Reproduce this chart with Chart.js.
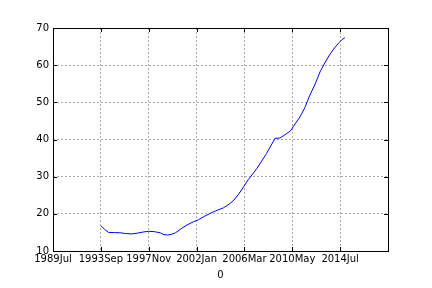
<!DOCTYPE html>
<html>
<head>
<meta charset="utf-8">
<script src="https://cdn.jsdelivr.net/npm/chart.js@4"></script>
<style>
  html, body { margin: 0; padding: 0; background: #fff; }
  #wrap { width: 432px; height: 288px; }
</style>
</head>
<body>
<div id="wrap"><canvas id="chart" width="432" height="288"></canvas></div>
<script>
// month index, counted from 1989Jul = 0
const months = [50, 54, 58, 64, 70, 76, 82, 88, 94, 100, 106, 112, 116, 120, 124, 128,
  134, 140, 147, 152, 158, 164, 170, 178, 184, 189, 194, 199, 204, 208, 213, 218,
  223, 228, 232, 237, 242, 248, 253, 258, 263, 268, 274, 279, 284, 289, 294, 299, 302, 305]
const values = [16.8, 15.8, 15.0, 14.95, 14.9, 14.7, 14.6, 14.8, 15.1, 15.3, 15.2, 14.9, 14.4, 14.3, 14.5, 14.9,
  16.0, 17.0, 17.9, 18.4, 19.3, 20.1, 20.8, 21.6, 22.6, 23.7, 25.3, 27.2, 29.2, 30.5, 32.2, 34.2,
  36.2, 38.5, 40.3, 40.4, 41.2, 42.3, 44.2, 46.1, 48.5, 51.7, 55.0, 58.2, 60.6, 62.8, 64.6, 66.1, 66.9, 67.4]
const tickLabels = ["1989Jul", "1993Sep", "1997Nov", "2002Jan", "2006Mar", "2010May", "2014Jul"]
const xLabel = "0"

const FONT = { family: "DejaVu Sans", size: 10 }

// frame + inward tick marks, old matplotlib look
const frame = {
  id: "frame",
  afterDraw(c) {
    const { ctx, chartArea: a, scales } = c
    ctx.save()
    ctx.strokeStyle = "#000"
    ctx.lineWidth = 1
    ctx.beginPath()
    scales.x.ticks.forEach(t => {
      const px = Math.round(scales.x.getPixelForValue(t.value)) + 0.5
      ctx.moveTo(px, a.bottom); ctx.lineTo(px, a.bottom - 4)
      ctx.moveTo(px, a.top); ctx.lineTo(px, a.top + 4)
    })
    scales.y.ticks.forEach(t => {
      const py = Math.round(scales.y.getPixelForValue(t.value)) + 0.5
      ctx.moveTo(a.left, py); ctx.lineTo(a.left + 4, py)
      ctx.moveTo(a.right, py); ctx.lineTo(a.right - 4, py)
    })
    ctx.stroke()
    ctx.strokeRect(Math.round(a.left) + 0.5, Math.round(a.top) + 0.5,
      Math.round(a.right - a.left), Math.round(a.bottom - a.top))
    ctx.restore()
  }
}

new Chart(document.getElementById("chart"), {
  type: "line",
  data: {
    datasets: [{
      data: months.map((m, i) => ({ x: m, y: values[i] })),
      borderColor: "#0000ff",
      borderWidth: 1,
      pointRadius: 0,
      tension: 0,
      fill: false
    }]
  },
  options: {
    responsive: false,
    animation: false,
    layout: { padding: { top: 28, right: 44, left: 0, bottom: 0 } },
    plugins: { legend: { display: false }, tooltip: { enabled: false } },
    scales: {
      x: {
        type: "linear",
        min: 0,
        max: 350,
        afterBuildTicks: s => { s.ticks = [0, 50, 100, 150, 200, 250, 300, 350].map(v => ({ value: v })) },
        afterFit: s => { s.height = 37 },
        ticks: {
          autoSkip: false,
          maxRotation: 0,
          padding: 2,
          color: "#000",
          font: FONT,
          callback: (v, i) => tickLabels[i] || ""
        },
        grid: { color: "#aaa", lineWidth: 1, drawTicks: false },
        border: { display: false, dash: [2, 2] },
        title: { display: true, text: xLabel, color: "#000", font: FONT, padding: { top: 0, bottom: 7 } }
      },
      y: {
        min: 10,
        max: 70,
        afterFit: s => { s.width = 53 },
        ticks: { stepSize: 10, padding: 4, color: "#000", font: FONT },
        grid: { color: "#aaa", lineWidth: 1, drawTicks: false },
        border: { display: false, dash: [2, 2] }
      }
    }
  },
  plugins: [frame]
})
</script>
</body>
</html>
